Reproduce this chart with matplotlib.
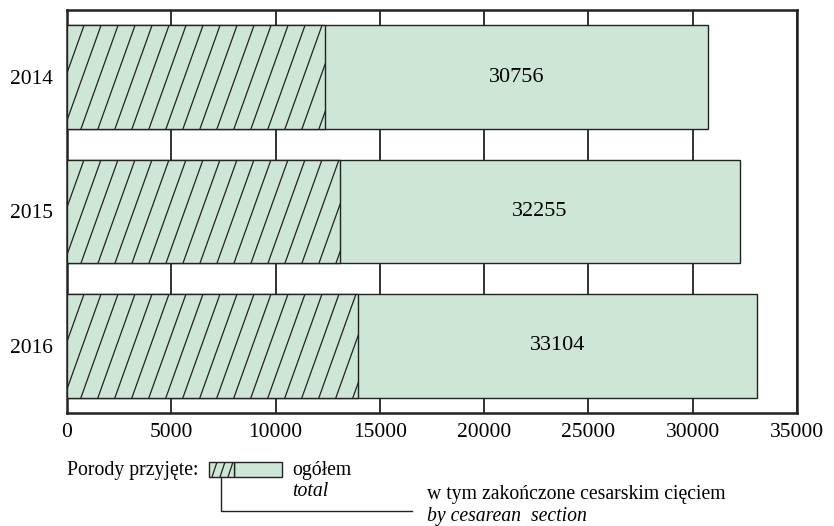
import numpy as np
import matplotlib.pyplot as plt
from matplotlib.patches import Rectangle
from matplotlib.lines import Line2D

YEARS = ['2014', '2015', '2016']
TOTAL = [30756, 32255, 33104]
CESAREAN = [12370, 13090, 13950]

FILL = '#cde6d6'
EDGE = '#222222'
plt.rcParams['font.family'] = ['Liberation Serif', 'DejaVu Serif']


def hatch_rect(ax, patch, x0, y0, w, h, step, shear, z=5):
    # slanted hatch lines clipped to the given patch
    xs = np.arange(x0 - abs(shear), x0 + w + step, step)
    for x in xs:
        ln = Line2D([x, x + shear], [y0, y0 + h], color=EDGE, lw=0.9, zorder=z)
        ax.add_line(ln)
        ln.set_clip_path(patch)


fig = plt.figure(figsize=(8.34, 5.26), dpi=100)
W, H = 834, 526
ax = fig.add_axes([67 / W, 1 - 413 / H, 730 / W, 403 / H])

pos = np.arange(len(YEARS))
bar_h = 0.77
for i in range(len(YEARS)):
    y0 = pos[i] - bar_h / 2
    ax.barh(pos[i], TOTAL[i], height=bar_h, color=FILL, edgecolor=EDGE,
            lw=1.0, zorder=3)
    p = ax.barh(pos[i], CESAREAN[i], height=bar_h, color=FILL,
                edgecolor=EDGE, lw=1.0, zorder=4)[0]
    hatch_rect(ax, p, 0, y0 + bar_h, CESAREAN[i], -bar_h, 815, 1775)
    ax.text((CESAREAN[i] + TOTAL[i]) / 2, pos[i], str(TOTAL[i]),
            ha='center', va='center', fontsize=16, zorder=6)

ax.set_xlim(0, 35000)
ax.set_ylim(2.5, -0.5)
ax.set_xticks(np.arange(0, 35001, 5000))
ax.set_yticks(pos, YEARS)
ax.tick_params(axis='both', length=0, labelsize=15.5)
ax.tick_params(axis='x', pad=7)
ax.tick_params(axis='y', pad=10)
ax.grid(axis='x', color=EDGE, lw=1.3, zorder=0)
ax.set_axisbelow(True)
for s in ax.spines.values():
    s.set_linewidth(1.8)
    s.set_color(EDGE)

# legend drawn on an overlay in pixel units
lg = fig.add_axes([0, 0, 1, 1], zorder=10)
lg.set_xlim(0, W)
lg.set_ylim(H, 0)
lg.axis('off')
fs = 14.2
lg.text(67, 470, 'Porody przyjęte:', fontsize=fs, va='center', ha='left')
lg.add_patch(Rectangle((234, 462), 48, 15, facecolor=FILL, edgecolor=EDGE, lw=1.0))
sw = Rectangle((209, 462), 25, 15, facecolor=FILL, edgecolor=EDGE, lw=1.0)
lg.add_patch(sw)
hatch_rect(lg, sw, 209, 477, 25, -15, 8, 5)
lg.text(292, 470, 'ogółem', fontsize=fs, va='center', ha='left')
lg.text(292, 492, 'total', fontsize=fs, va='center', ha='left', style='italic')
lg.plot([221, 221, 412], [477, 511, 511], color=EDGE, lw=1.0)
lg.text(427, 495, 'w tym zakończone cesarskim cięciem', fontsize=fs, va='center', ha='left')
lg.text(427, 517, 'by cesarean  section', fontsize=fs, va='center', ha='left', style='italic')

fig.savefig('out.png', dpi=100)
